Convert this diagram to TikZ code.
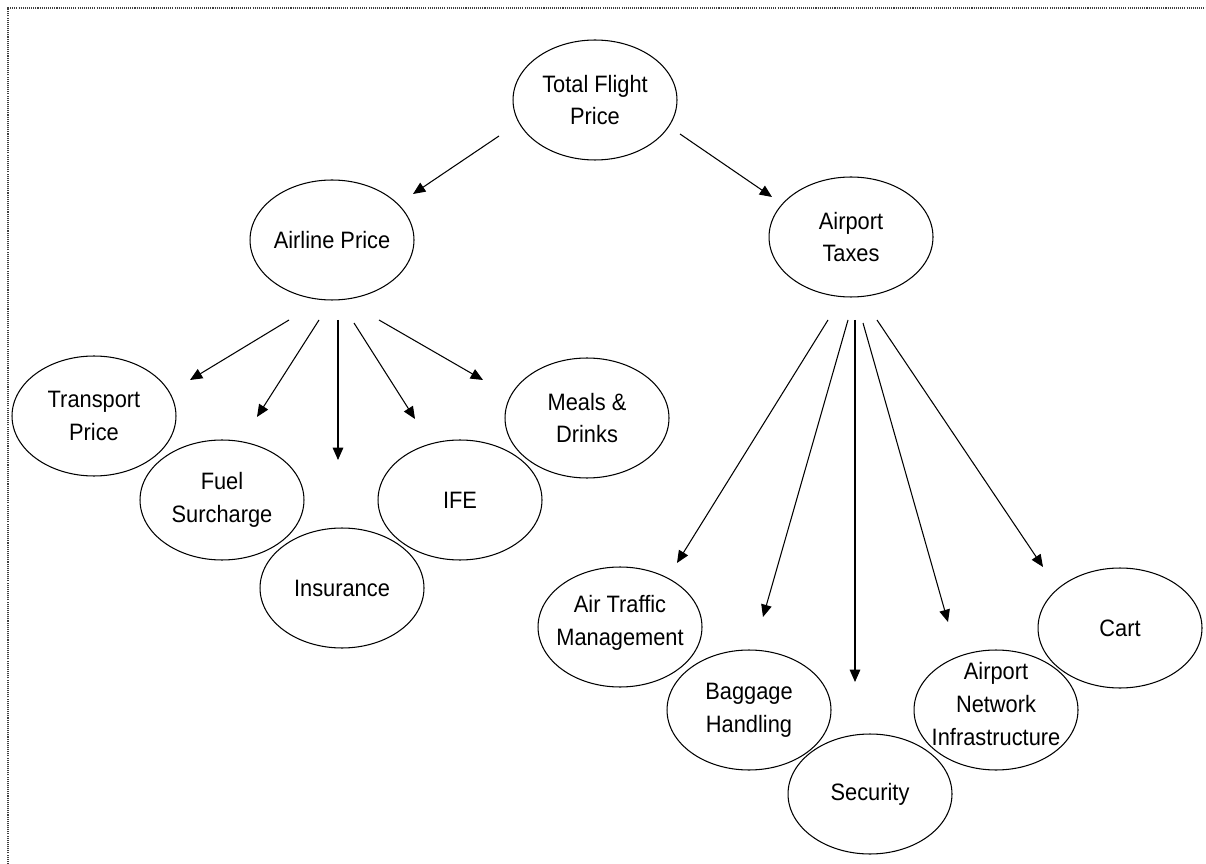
\documentclass[tikz,border=0pt]{standalone}
\usepackage{fontspec}
\setmainfont{Liberation Sans}[FakeStretch=0.92]
\usetikzlibrary{arrows.meta}
\tikzset{
  txt/.style={align=center,inner sep=0pt,font=\fontsize{13.5}{18.7}\selectfont},
  arr/.style={-{Triangle[length=7pt,width=6pt]},line width=0.6pt},
  frame/.style={line width=0.6pt,black!75,dash pattern=on 0.6pt off 0.6pt}
}

\begin{document}
\begin{tikzpicture}[x=0.02cm,y=-0.02cm,line width=0.6pt]
\useasboundingbox (0,0) rectangle (1206,864);
\draw[frame](8,864)--(8,8)--(1206,8);
%prices
\node[txt](tfp)at(595,100){Total Flight\\Price};
\node[txt](airline)at(332,240){Airline Price};
\node[txt](airport)at(851,237){Airport\\Taxes};
%airline price parts
\node[txt](transport)at(94,416){Transport\\Price};
\node[txt](fuel)at(222,500){Fuel\\Surcharge};
\node[txt](insur)at(342,588){Insurance};
\node[txt](ife)at(460,500){IFE};
\node[txt](meals)at(587,418){Meals \&\\Drinks};
%airport taxes parts
\node[txt](atm)at(620,623){Air Traffic\\Management};
\node[txt](baggage)at(749,710){Baggage\\Handling};
\node[txt](security)at(870,794){Security};
\node[txt](network)at(996,704){Airport\\Network\\Infrastructure};
\node[txt](cart)at(1120,628){Cart};
%bubbles (some texts sit a bit high)
\foreach \n/\dy in {tfp/0,airline/0,airport/0,transport/0,fuel/0,insur/0,ife/0,meals/0,
atm/-0.08,baggage/0,security/0,network/-0.12,cart/0}{
\draw([yshift=\dy cm]\n.center)ellipse[x radius=1.64cm,y radius=1.2cm];
}
%arrows
\foreach \n/\sx/\sy/\ex/\ey in {airline/499/136/413/194,airport/680/134/772/197,
transport/289/320/190/380,fuel/319/320/257/417,insur/338/320/338/460,
ife/354/323/415/419,meals/379/320/483/380,
atm/828/320/677/563,baggage/848/320/763/617,security/855/320/855/682,
network/863/323/948/622,cart/877/320/1043/567}{
\coordinate(\n-from)at(\sx,\sy);
\coordinate(\n-to)at(\ex,\ey);
\draw[arr](\n-from)--(\n-to);
}
\end{tikzpicture}
\end{document}
